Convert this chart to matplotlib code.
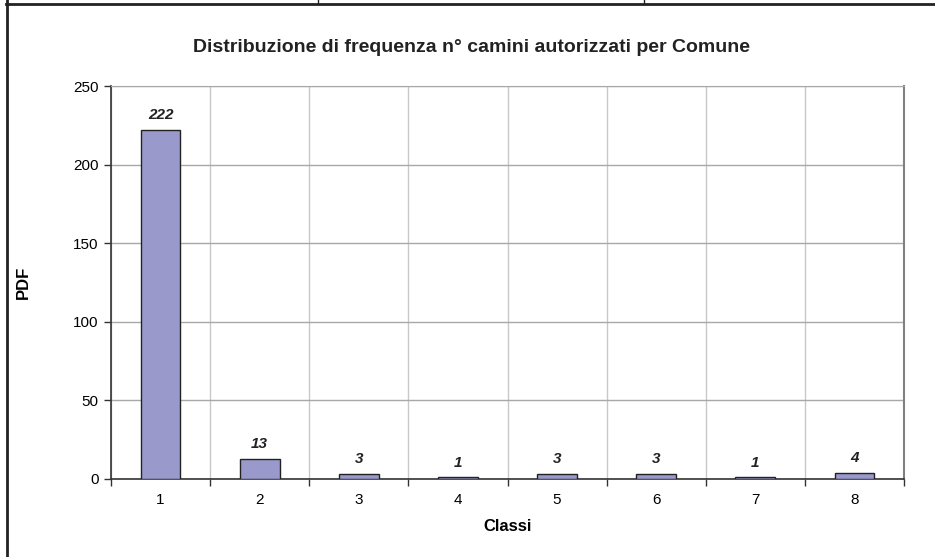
import matplotlib
matplotlib.use("Agg")
import matplotlib.pyplot as plt
from matplotlib.lines import Line2D

plt.rcParams['font.family'] = ['Liberation Sans', 'DejaVu Sans']

classi = [1, 2, 3, 4, 5, 6, 7, 8]
pdf = [222, 13, 3, 1, 3, 3, 1, 4]
yticks = [0, 50, 100, 150, 200, 250]

W, H = 935, 557
fig = plt.figure(figsize=(W / 100, H / 100), dpi=100)

# plot area (pixel box from the reference)
left, right, top, bottom = 111, 904, 86, 479
ax = fig.add_axes([left / W, 1 - bottom / H, (right - left) / W, (bottom - top) / H])

ax.bar(classi, pdf, width=0.4, color='#9999cc', edgecolor='#222222', linewidth=1, zorder=3)

for x, v in zip(classi, pdf):
    ax.text(x, v + 5, str(v), ha='center', va='bottom', fontsize=11,
            fontweight='bold', fontstyle='italic', color='#222222')

ax.set_xlim(0.5, 8.5)
ax.set_ylim(0, 250)
ax.set_yticks(yticks)
ax.set_xticks(classi)
ax.set_xticks([x + 0.5 for x in range(0, 9)], minor=True)
ax.tick_params(axis='x', which='major', length=0, pad=10, labelsize=11)
ax.tick_params(axis='x', which='minor', length=5, width=1, color='#333333', direction='out')
ax.tick_params(axis='y', length=5, width=1, color='#333333', labelsize=11, pad=4)

ax.grid(axis='y', color='#a8a8a8', linewidth=1, zorder=0)
ax.grid(axis='x', which='minor', color='#c8c8c8', linewidth=1, zorder=0)

for s in ['left', 'bottom']:
    ax.spines[s].set_color('#333333')
    ax.spines[s].set_linewidth(1.2)
ax.spines['top'].set_color('#a8a8a8')
ax.spines['right'].set_color('#808080')
ax.spines['right'].set_linewidth(1.5)

ax.set_xlabel('Classi', fontsize=12, fontweight='bold', labelpad=9)
ax.set_ylabel('PDF', fontsize=12, fontweight='bold', labelpad=30)

fig.text(472 / W, 1 - 47 / H, 'Distribuzione di frequenza n° camini autorizzati per Comune',
         ha='center', va='center', fontsize=14, fontweight='bold', color='#222222')

# surrounding table frame of the page
fig.add_artist(Line2D([6 / W, 1], [1 - 4 / H, 1 - 4 / H], transform=fig.transFigure,
                      color='#222222', linewidth=2))
fig.add_artist(Line2D([7 / W, 7 / W], [0, 1], transform=fig.transFigure,
                      color='#222222', linewidth=2))
for xp in [318, 644]:
    fig.add_artist(Line2D([xp / W, xp / W], [1 - 4 / H, 1], transform=fig.transFigure,
                          color='#222222', linewidth=1))

fig.savefig('out.png', dpi=100)
